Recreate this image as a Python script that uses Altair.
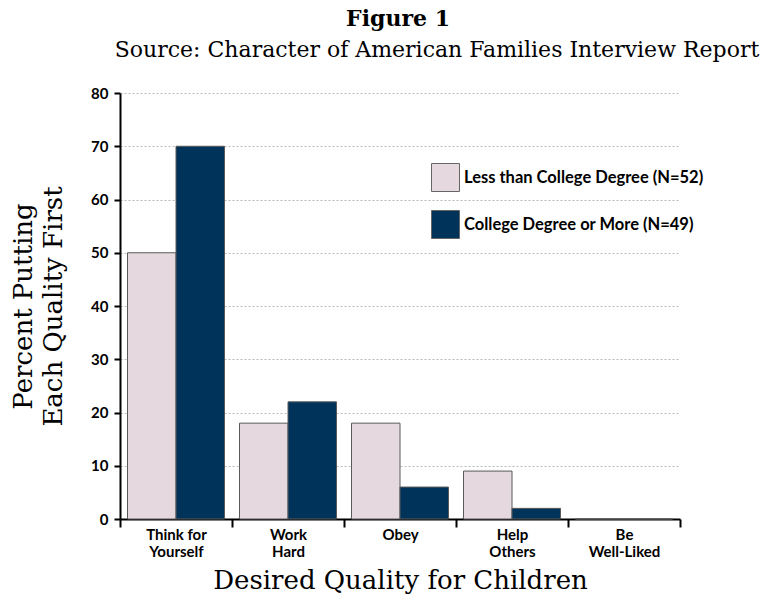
import altair as alt
import pandas as pd

categories = ["Think for Yourself", "Work Hard", "Obey", "Help Others", "Be Well-Liked"]
label_lines = [["Think for", "Yourself"], ["Work", "Hard"], ["Obey"], ["Help", "Others"], ["Be", "Well-Liked"]]
groups = ["Less than College Degree (N=52)", "College Degree or More (N=49)"]
less_than_college = [50, 18, 18, 9, 0]
college_or_more = [70, 22, 6, 2, 0]
colors = ["#E6D8DF", "#003359"]
title_text = "Figure 1"
subtitle_text = "Source: Character of American Families Interview Report"

rows = []
for c, a, b in zip(categories, less_than_college, college_or_more):
    rows.append({"quality": c, "group": groups[0], "pct": a})
    rows.append({"quality": c, "group": groups[1], "pct": b})
df = pd.DataFrame(rows)

label_expr = ""
for c, lines in zip(categories, label_lines):
    arr = "[" + ",".join("'" + l + "'" for l in lines) + "]"
    label_expr += f"datum.value == '{c}' ? {arr} : "
label_expr += "datum.label"

serif = "DejaVu Serif"
sans = "Lato"

bars = alt.Chart(df).mark_bar(stroke="#5a5a5a", strokeWidth=1).encode(
    x=alt.X("quality:N", sort=categories,
            scale=alt.Scale(paddingInner=0, paddingOuter=0),
            axis=alt.Axis(title="Desired Quality for Children", labelAngle=0,
                          labelExpr=label_expr, labelFont=sans, labelFontWeight="bold",
                          labelFontSize=15, labelColor="black", labelPadding=0,
                          labelBaseline="top", labelLineHeight=17,
                          tickBand="extent", tickSize=8, tickColor="black", tickWidth=2,
                          domainColor="black", domainWidth=2, grid=False,
                          titleFont=serif, titleFontSize=26, titleFontWeight="normal",
                          titleColor="black", titlePadding=8)),
    xOffset=alt.XOffset("group:N", sort=groups,
                        scale=alt.Scale(paddingInner=0, paddingOuter=0.155)),
    y=alt.Y("pct:Q", scale=alt.Scale(domain=[0, 80]),
            axis=alt.Axis(title=["Percent  Putting", "Each Quality First"], values=list(range(0, 81, 10)),
                          labelFont=sans, labelFontWeight="bold", labelFontSize=15,
                          labelColor="black", labelPadding=6,
                          tickSize=6, tickColor="black", tickWidth=2,
                          domainColor="black", domainWidth=2,
                          grid=True, gridColor="#b8b8b8", gridDash=[2, 2], gridWidth=1,
                          titleFont=serif, titleFontSize=26, titleFontWeight="normal",
                          titleColor="black", titlePadding=24, titleLineHeight=30)),
    color=alt.Color("group:N", sort=groups,
                    scale=alt.Scale(domain=groups, range=colors),
                    legend=alt.Legend(title=None, orient="none", legendX=311, legendY=70,
                                      symbolType="square", symbolSize=784,
                                      symbolStrokeColor="#666666", symbolStrokeWidth=1,
                                      symbolOpacity=1,
                                      labelFont=sans, labelFontWeight="bold", labelFontSize=16.5,
                                      labelColor="black", labelOffset=4, rowPadding=14,
                                      labelLimit=400)),
)

title_mark = alt.Chart(alt.Data(values=[{}])).mark_text(
    font=serif, fontSize=22, fontWeight="bold", color="black", align="center", baseline="middle"
).encode(x=alt.value(278), y=alt.value(-74), text=alt.value(title_text))

sub = alt.Chart(alt.Data(values=[{}])).mark_text(
    font=serif, fontSize=22, color="black", align="center", baseline="middle"
).encode(x=alt.value(317), y=alt.value(-43), text=alt.value(subtitle_text))

chart = alt.layer(bars, title_mark, sub).properties(
    width=560, height=426,
    autosize=alt.AutoSizeParams(type="none"),
    padding={"left": 120, "top": 93, "right": 90, "bottom": 81},
    background="white",
).configure_view(stroke=None)

chart.save("out.html", embed_options={"renderer": "svg", "actions": False})
